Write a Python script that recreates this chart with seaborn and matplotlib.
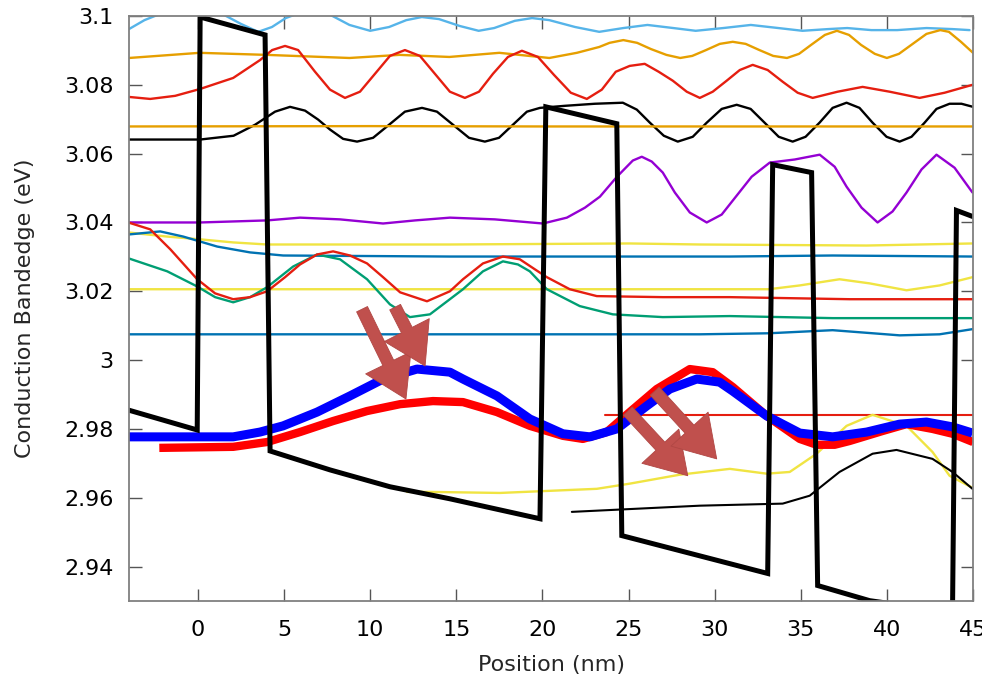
import numpy as np
import matplotlib
matplotlib.use("Agg")
import matplotlib.pyplot as plt
from matplotlib.ticker import FixedLocator, FuncFormatter
import seaborn as sns

# ---------------- data ----------------
# thick black conduction band profile
CB_X = [-4.04, -0.04, 0.13, 3.90, 4.19, 7.67, 11.15, 14.63, 19.86, 20.20, 24.32, 24.61,
        33.08, 33.37, 35.63, 35.98, 39.00, 43.81, 44.04, 45.0]
CB_Y = [2.9855, 2.9797, 3.0997, 3.0945, 2.9736, 2.9681, 2.9632, 2.9597, 2.9539, 3.0736,
        3.0687, 2.9490, 2.9380, 3.0568, 3.0545, 2.9345, 2.9301, 2.9267, 3.0435, 3.0417]

# thick blue state
BLUE_X = [-4.04, 2.05, 3.61, 4.95, 6.92, 8.83, 10.75, 12.72, 14.63, 15.39, 17.36, 19.27,
          21.19, 22.76, 24.32, 26.06, 27.40, 28.96, 30.29, 31.05, 33.02, 34.94, 36.85,
          38.83, 40.74, 42.30, 43.81, 44.97]
BLUE_Y = [2.9777, 2.9777, 2.9791, 2.9809, 2.9849, 2.9896, 2.9945, 2.9974, 2.9965, 2.9945,
          2.9896, 2.9829, 2.9786, 2.9777, 2.9800, 2.9867, 2.9916, 2.9945, 2.9936, 2.9910,
          2.9838, 2.9788, 2.9777, 2.9791, 2.9814, 2.9820, 2.9806, 2.9788]

# thick red state
RED_X = [-2.24, 2.05, 4.02, 5.93, 7.85, 9.82, 11.74, 13.65, 15.39, 17.36, 19.27, 21.19,
         22.35, 23.74, 25.07, 26.64, 28.56, 29.89, 31.05, 33.02, 34.94, 35.92, 36.97,
         37.84, 39.75, 41.14, 42.65, 43.81, 45.0]
RED_Y = [2.9745, 2.9748, 2.9762, 2.9791, 2.9823, 2.9852, 2.9872, 2.9881, 2.9878, 2.9849,
         2.9809, 2.9780, 2.9771, 2.9791, 2.9849, 2.9916, 2.9974, 2.9965, 2.9922, 2.9838,
         2.9771, 2.9754, 2.9754, 2.9765, 2.9794, 2.9814, 2.9800, 2.9786, 2.9762]

# thin curves
SKY_X = [-4.0, -3.1, -1.9, -0.2, 1.3, 2.5, 3.5, 4.3, 5.1, 5.9, 6.7, 7.7, 8.8, 10.0, 11.1,
         12.1, 13.0, 14.0, 15.2, 16.3, 17.2, 18.4, 19.4, 20.4, 21.9, 23.3, 24.7, 26.1,
         27.6, 28.9, 30.5, 32.1, 33.7, 35.1, 36.6, 37.7, 39.1, 40.6, 42.3, 43.8, 44.8]
SKY_Y = [3.0962, 3.0988, 3.1012, 3.1020, 3.1009, 3.0977, 3.0954, 3.0968, 3.0994, 3.1009,
         3.1014, 3.1003, 3.0974, 3.0957, 3.0968, 3.0988, 3.0997, 3.0991, 3.0971, 3.0957,
         3.0965, 3.0986, 3.0994, 3.0988, 3.0968, 3.0954, 3.0965, 3.0974, 3.0965, 3.0957,
         3.0965, 3.0974, 3.0965, 3.0957, 3.0962, 3.0965, 3.0959, 3.0959, 3.0965, 3.0962,
         3.0959]

ORANGE1_X = [-4.0, 0.1, 4.0, 8.8, 11.7, 14.6, 17.5, 20.4, 22.0, 23.3, 23.9, 24.7, 25.5,
             26.3, 27.2, 28.0, 28.7, 29.5, 30.3, 31.05, 31.8, 32.6, 33.4, 34.2, 34.9,
             35.6, 36.4, 37.1, 37.8, 38.5, 39.3, 40.0, 40.7, 41.5, 42.3, 43.1, 43.6,
             44.3, 45.0]
ORANGE1_Y = [3.0878, 3.0893, 3.0887, 3.0878, 3.0887, 3.0881, 3.0893, 3.0878, 3.0893,
             3.0910, 3.0922, 3.0930, 3.0922, 3.0904, 3.0887, 3.0878, 3.0884, 3.0901,
             3.0919, 3.0925, 3.0919, 3.0901, 3.0884, 3.0878, 3.0890, 3.0916, 3.0945,
             3.0957, 3.0945, 3.0916, 3.0890, 3.0878, 3.0890, 3.0919, 3.0948, 3.0959,
             3.0954, 3.0925, 3.0893]

RED1_X = [-4.04, -2.77, -1.32, 0.13, 2.05, 3.61, 4.31, 5.06, 5.82, 6.80, 7.67, 8.54, 9.41,
          10.28, 11.15, 12.02, 12.89, 13.76, 14.63, 15.50, 16.32, 17.13, 18.00, 18.81,
          19.74, 20.67, 21.65, 22.58, 23.45, 24.26, 25.07, 25.94, 26.75, 27.57, 28.38,
          29.14, 29.89, 30.70, 31.46, 32.21, 33.08, 33.95, 34.82, 35.69, 37.14, 38.59,
          40.16, 41.90, 43.35, 44.97]
RED1_Y = [3.0765, 3.0759, 3.0768, 3.0788, 3.0820, 3.0872, 3.0901, 3.0913, 3.0901, 3.0838,
          3.0786, 3.0762, 3.0780, 3.0832, 3.0884, 3.0901, 3.0884, 3.0832, 3.0780, 3.0762,
          3.0780, 3.0832, 3.0881, 3.0899, 3.0881, 3.0829, 3.0777, 3.0759, 3.0786, 3.0838,
          3.0855, 3.0861, 3.0838, 3.0812, 3.0780, 3.0762, 3.0780, 3.0812, 3.0843, 3.0858,
          3.0843, 3.0809, 3.0777, 3.0762, 3.0780, 3.0794, 3.0780, 3.0762, 3.0777, 3.0800]

BLACK1_X = [-4.04, 0.13, 2.07, 3.32, 4.48, 5.35, 6.22, 6.98, 7.67, 8.43, 9.24, 10.17,
            11.10, 12.02, 13.01, 13.88, 14.81, 15.74, 16.66, 17.48, 18.29, 19.10, 19.86,
            21.31, 23.05, 24.67, 25.48, 26.24, 27.05, 27.86, 28.73, 29.54, 30.41, 31.28,
            32.09, 32.90, 33.72, 34.53, 35.28, 36.09, 36.85, 37.66, 38.41, 39.17, 39.98,
            40.74, 41.43, 42.19, 42.88, 43.64, 44.33, 45.0]
BLACK1_Y = [3.0641, 3.0641, 3.0652, 3.0684, 3.0722, 3.0736, 3.0725, 3.0699, 3.0670, 3.0643,
            3.0635, 3.0646, 3.0684, 3.0722, 3.0733, 3.0722, 3.0684, 3.0646, 3.0635, 3.0646,
            3.0684, 3.0722, 3.0733, 3.0739, 3.0745, 3.0748, 3.0728, 3.0690, 3.0652, 3.0635,
            3.0649, 3.0690, 3.0730, 3.0742, 3.0730, 3.0690, 3.0649, 3.0635, 3.0649, 3.0690,
            3.0733, 3.0748, 3.0733, 3.0690, 3.0649, 3.0635, 3.0649, 3.0690, 3.0730, 3.0745,
            3.0745, 3.0736]

ORANGE2_X = [-4.0, 10.0, 20.0, 30.0, 45.0]
ORANGE2_Y = [3.0679, 3.0680, 3.0679, 3.0679, 3.0679]

PURPLE_X = [-4.04, 0.13, 4.02, 5.93, 8.25, 10.75, 12.61, 14.63, 17.24, 20.03, 21.42, 22.47,
            23.34, 24.33, 25.25, 25.77, 26.35, 26.99, 27.69, 28.56, 29.54, 30.41, 31.28,
            32.15, 33.20, 34.65, 36.10, 36.97, 37.66, 38.53, 39.46, 40.33, 41.14, 42.01,
            42.88, 43.93, 44.97]
PURPLE_Y = [3.0400, 3.0400, 3.0406, 3.0414, 3.0409, 3.0397, 3.0406, 3.0414, 3.0409, 3.0397,
            3.0414, 3.0443, 3.0475, 3.0533, 3.0580, 3.0591, 3.0577, 3.0545, 3.0487, 3.0429,
            3.0400, 3.0423, 3.0478, 3.0533, 3.0574, 3.0583, 3.0597, 3.0562, 3.0504, 3.0443,
            3.0400, 3.0432, 3.0487, 3.0554, 3.0597, 3.0559, 3.0487]

YELLOW1_X = [-4.04, -1.78, 0.13, 2.05, 4.02, 14.6, 25.07, 29.14, 38.83, 44.97]
YELLOW1_Y = [3.0371, 3.0359, 3.0351, 3.0342, 3.0336, 3.0336, 3.0339, 3.0336, 3.0333, 3.0339]

DBLUE1_X = [-4.04, -2.19, -0.85, 1.12, 3.03, 4.95, 14.63, 30.88, 36.85, 44.97]
DBLUE1_Y = [3.0365, 3.0374, 3.0359, 3.0330, 3.0313, 3.0304, 3.0301, 3.0301, 3.0304, 3.0301]

RED2_X = [-4.04, -2.77, -1.60, -0.04, 1.00, 2.05, 3.03, 4.02, 5.06, 5.93, 6.92, 7.85, 8.83,
          9.82, 10.75, 11.74, 13.30, 14.63, 15.39, 16.55, 17.71, 18.69, 19.56, 20.26,
          21.59, 23.16, 26.99, 30.88, 37.84, 44.97]
RED2_Y = [3.0400, 3.0380, 3.0322, 3.0235, 3.0194, 3.0177, 3.0183, 3.0200, 3.0241, 3.0278,
          3.0307, 3.0316, 3.0304, 3.0281, 3.0241, 3.0197, 3.0171, 3.0200, 3.0235, 3.0281,
          3.0301, 3.0293, 3.0264, 3.0241, 3.0206, 3.0186, 3.0183, 3.0183, 3.0177, 3.0177]

GREEN_X = [-4.04, -1.78, -0.04, 1.00, 2.05, 3.03, 4.02, 5.53, 6.92, 8.25, 9.82, 11.15,
           12.31, 13.47, 14.63, 15.39, 16.55, 17.71, 18.58, 19.27, 20.26, 22.17, 24.09,
           26.99, 30.88, 36.85, 44.97]
GREEN_Y = [3.0296, 3.0258, 3.0214, 3.0183, 3.0168, 3.0183, 3.0212, 3.0272, 3.0307, 3.0293,
           3.0235, 3.0162, 3.0125, 3.0133, 3.0177, 3.0206, 3.0258, 3.0287, 3.0278, 3.0258,
           3.0206, 3.0157, 3.0133, 3.0125, 3.0128, 3.0122, 3.0122]

YELLOW2_X = [-4.04, 5.93, 14.63, 25.07, 33.14, 34.94, 37.25, 39.00, 41.14, 43.06, 44.97]
YELLOW2_Y = [3.0206, 3.0206, 3.0206, 3.0206, 3.0206, 3.0217, 3.0235, 3.0223, 3.0203,
             3.0217, 3.0241]

DBLUE2_X = [-4.04, 14.63, 29.14, 33.14, 36.85, 40.74, 43.06, 44.97]
DBLUE2_Y = [3.0075, 3.0075, 3.0075, 3.0078, 3.0087, 3.0072, 3.0075, 3.0090]

RED3_X = [23.63, 45.0]
RED3_Y = [2.9841, 2.9841]

YELLOW3_X = [12.14, 13.47, 17.54, 23.16, 25.07, 27.97, 30.88, 33.02, 34.36, 35.92, 37.66,
             39.17, 41.14, 42.65, 43.64, 44.97]
YELLOW3_Y = [2.9617, 2.9617, 2.9614, 2.9626, 2.9641, 2.9667, 2.9684, 2.9670, 2.9675,
             2.9728, 2.9809, 2.9841, 2.9809, 2.9733, 2.9664, 2.9629]

BLACK2_X = [21.71, 29.14, 33.95, 35.52, 37.25, 39.17, 40.56, 42.65, 43.81, 44.97]
BLACK2_Y = [2.9559, 2.9577, 2.9583, 2.9606, 2.9675, 2.9728, 2.9739, 2.9713, 2.9675, 2.9626]

# annotation arrows: (tail x, tail y, tip x, tip y)
ARROWS = [(9.53, 3.0148, 12.08, 2.9887),
          (11.45, 3.0154, 13.19, 2.9983),
          (24.96, 2.9852, 28.44, 2.9664),
          (26.52, 2.9910, 30.12, 2.9713)]

X_TICKS = [0, 5, 10, 15, 20, 25, 30, 35, 40, 45]
Y_TICKS = [2.94, 2.96, 2.98, 3.00, 3.02, 3.04, 3.06, 3.08, 3.10]

# ---------------- styling ----------------
sns.set_theme(style="white")
plt.rcParams["font.family"] = ["DejaVu Sans"]

fig = plt.figure(figsize=(9.82, 6.82), dpi=100)
ax = fig.add_axes([129 / 982, 1 - 601 / 682, 844 / 982, 585 / 682])

thin = 1.7
series = [
    (SKY_X, SKY_Y, "#56b4e9", thin),
    (ORANGE1_X, ORANGE1_Y, "#e69f00", thin),
    (RED1_X, RED1_Y, "#e51e10", thin),
    (BLACK1_X, BLACK1_Y, "black", thin),
    (ORANGE2_X, ORANGE2_Y, "#e69f00", thin),
    (PURPLE_X, PURPLE_Y, "#9400d3", thin),
    (YELLOW1_X, YELLOW1_Y, "#f0e442", thin),
    (DBLUE1_X, DBLUE1_Y, "#0072b2", thin),
    (YELLOW2_X, YELLOW2_Y, "#f0e442", thin),
    (GREEN_X, GREEN_Y, "#009e73", thin),
    (RED2_X, RED2_Y, "#e51e10", thin),
    (DBLUE2_X, DBLUE2_Y, "#0072b2", thin),
    (RED3_X, RED3_Y, "#e51e10", 1.5),
    (YELLOW3_X, YELLOW3_Y, "#f0e442", thin),
    (BLACK2_X, BLACK2_Y, "black", 1.5),
]
for xs, ys, c, lw in series:
    sns.lineplot(x=xs, y=ys, ax=ax, color=c, lw=lw, sort=False, estimator=None,
                 legend=False)

sns.lineplot(x=RED_X, y=RED_Y, ax=ax, color="#ff0000", lw=6.0, sort=False,
             estimator=None, legend=False, solid_capstyle="butt")
sns.lineplot(x=BLUE_X, y=BLUE_Y, ax=ax, color="#0000ff", lw=6.5, sort=False,
             estimator=None, legend=False, solid_capstyle="butt")
sns.lineplot(x=CB_X, y=CB_Y, ax=ax, color="black", lw=3.6, sort=False,
             estimator=None, legend=False, solid_joinstyle="miter")

for tx, ty, hx, hy in ARROWS:
    ax.annotate("", xy=(hx, hy), xytext=(tx, ty),
                arrowprops=dict(arrowstyle="simple,head_length=1.0,head_width=1.25,tail_width=0.3",
                                mutation_scale=29, fc="#c0504d", ec="#b04744", lw=0.6,
                                shrinkA=0, shrinkB=0), zorder=10)

ax.set_xlim(-4, 45)
ax.set_ylim(2.93, 3.1)
ax.xaxis.set_major_locator(FixedLocator(X_TICKS))
ax.yaxis.set_major_locator(FixedLocator(Y_TICKS))
ax.xaxis.set_major_formatter(FuncFormatter(lambda v, p: f"{round(v, 4):g}"))
ax.yaxis.set_major_formatter(FuncFormatter(lambda v, p: f"{round(v, 4):g}"))

ax.tick_params(axis="both", which="major", direction="in", length=9, width=1.0,
               color="#555555", labelsize=16, labelcolor="black",
               top=True, right=True, bottom=True, left=True)
ax.tick_params(axis="x", pad=14)
ax.tick_params(axis="y", pad=11)
for sp in ax.spines.values():
    sp.set_visible(True)
    sp.set_color("#808080")
    sp.set_linewidth(1.3)

ax.set_xlabel("Position (nm)", fontsize=16, va="center")
ax.set_ylabel("Conduction Bandedge (eV)", fontsize=16, va="center")
ax.xaxis.set_label_coords(0.5, -0.109)
ax.yaxis.set_label_coords(-0.123, 0.5)

fig.savefig("out.png", dpi=100)
